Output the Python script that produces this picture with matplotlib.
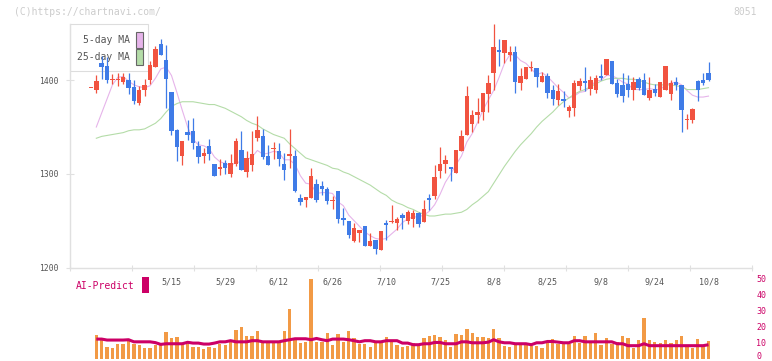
import numpy as np
import matplotlib.pyplot as plt
from matplotlib.patches import Rectangle

W, H = 772, 361

# 日足 OHLC（先頭は左端にだけ見える十字線、以降 2025/4/22 ～ 10/8）
opens = [1392,
         1390, 1418, 1415, 1400, 1400, 1398, 1400, 1393, 1376, 1390,
         1400, 1414, 1439, 1422, 1387, 1347, 1319, 1345, 1346, 1330,
         1319, 1330, 1310, 1305, 1312, 1300, 1311, 1325, 1302, 1309,
         1338, 1340, 1319, 1326, 1324, 1310, 1319, 1319, 1274, 1272,
         1274, 1289, 1287, 1284, 1271, 1282, 1253, 1250, 1228, 1237,
         1244, 1223, 1229, 1219, 1248, 1249, 1248, 1256, 1250, 1252,
         1258, 1249, 1274, 1276, 1303, 1310, 1307, 1301, 1324, 1341,
         1353, 1363, 1366, 1385, 1408, 1432, 1429, 1427, 1430, 1397,
         1401, 1413, 1413, 1398, 1405, 1390, 1379, 1380, 1367, 1370,
         1394, 1399, 1391, 1390, 1405, 1406, 1420, 1397, 1395, 1396,
         1389, 1401, 1400, 1381, 1391, 1382, 1389, 1385, 1398, 1395,
         1357, 1357, 1399, 1400, 1408]
highs = [1392,
         1406, 1426, 1425, 1407, 1408, 1408, 1408, 1400, 1394, 1401,
         1421, 1436, 1444, 1438, 1387, 1348, 1335, 1357, 1360, 1335,
         1328, 1337, 1311, 1316, 1315, 1321, 1338, 1346, 1324, 1346,
         1362, 1348, 1331, 1334, 1333, 1322, 1348, 1325, 1278, 1275,
         1306, 1294, 1292, 1286, 1276, 1282, 1264, 1250, 1247, 1240,
         1244, 1237, 1229, 1239, 1251, 1267, 1254, 1258, 1261, 1261,
         1259, 1272, 1278, 1309, 1329, 1320, 1307, 1325, 1347, 1394,
         1368, 1381, 1386, 1406, 1460, 1444, 1443, 1436, 1437, 1413,
         1414, 1420, 1413, 1409, 1408, 1395, 1396, 1388, 1373, 1400,
         1402, 1414, 1405, 1406, 1417, 1423, 1420, 1401, 1408, 1406,
         1403, 1403, 1408, 1403, 1396, 1398, 1415, 1400, 1403, 1395,
         1364, 1370, 1400, 1408, 1419]
lows = [1392,
        1386, 1401, 1397, 1396, 1394, 1396, 1385, 1375, 1374, 1383,
        1396, 1414, 1427, 1370, 1341, 1314, 1309, 1336, 1327, 1312,
        1312, 1315, 1298, 1299, 1300, 1297, 1308, 1304, 1297, 1303,
        1335, 1316, 1309, 1316, 1308, 1293, 1306, 1281, 1267, 1265,
        1274, 1270, 1277, 1268, 1262, 1248, 1245, 1231, 1227, 1227,
        1223, 1223, 1214, 1219, 1229, 1247, 1240, 1241, 1246, 1243,
        1243, 1249, 1261, 1273, 1296, 1301, 1292, 1301, 1324, 1341,
        1345, 1354, 1358, 1366, 1389, 1415, 1418, 1421, 1386, 1389,
        1401, 1410, 1393, 1398, 1381, 1374, 1373, 1371, 1361, 1362,
        1390, 1388, 1384, 1386, 1400, 1406, 1396, 1382, 1377, 1382,
        1379, 1389, 1384, 1379, 1383, 1382, 1389, 1379, 1389, 1345,
        1348, 1354, 1378, 1395, 1399]
closes = [1392,
          1399, 1414, 1400, 1401, 1401, 1403, 1392, 1378, 1390, 1395,
          1416, 1433, 1427, 1401, 1346, 1329, 1335, 1342, 1333, 1318,
          1322, 1321, 1298, 1307, 1306, 1312, 1335, 1304, 1317, 1321,
          1347, 1318, 1309, 1327, 1316, 1304, 1321, 1282, 1270, 1275,
          1298, 1272, 1284, 1271, 1272, 1252, 1251, 1235, 1242, 1240,
          1223, 1228, 1220, 1239, 1245, 1250, 1252, 1253, 1259, 1258,
          1246, 1262, 1272, 1297, 1311, 1315, 1305, 1325, 1340, 1383,
          1363, 1366, 1386, 1397, 1435, 1430, 1443, 1430, 1398, 1404,
          1414, 1414, 1403, 1405, 1386, 1380, 1388, 1378, 1371, 1397,
          1399, 1397, 1400, 1402, 1402, 1423, 1396, 1385, 1383, 1390,
          1398, 1392, 1384, 1390, 1386, 1398, 1415, 1397, 1395, 1368,
          1358, 1369, 1390, 1397, 1400]

# 移動平均（画面から読み取り、2025/4/22 以降）
ma5 = [1350, 1365, 1380, 1395, 1403, 1404, 1399, 1395, 1393, 1392,
       1394, 1402, 1412, 1414, 1405, 1387, 1368, 1350, 1337, 1331,
       1330, 1327, 1318, 1313, 1311, 1309, 1312, 1313, 1315, 1318,
       1325, 1321, 1322, 1324, 1323, 1315, 1315, 1310, 1298, 1290,
       1289, 1279, 1280, 1280, 1279, 1270, 1266, 1256, 1250, 1244,
       1238, 1234, 1231, 1230, 1231, 1236, 1241, 1248, 1252, 1254,
       1254, 1256, 1260, 1267, 1278, 1291, 1300, 1310, 1319, 1334,
       1343, 1355, 1368, 1379, 1389, 1403, 1418, 1427, 1427, 1421,
       1418, 1412, 1406, 1408, 1404, 1398, 1392, 1387, 1381, 1383,
       1387, 1388, 1393, 1399, 1400, 1405, 1405, 1402, 1398, 1396,
       1390, 1390, 1390, 1391, 1390, 1390, 1395, 1397, 1398, 1395,
       1389, 1384, 1382, 1382, 1383]
ma25 = [1338, 1340, 1341, 1342, 1343, 1344, 1346, 1347, 1347, 1348,
        1351, 1354, 1359, 1366, 1372, 1375, 1377, 1377, 1377, 1376,
        1375, 1374, 1374, 1372, 1370, 1367, 1364, 1361, 1357, 1354,
        1352, 1348, 1345, 1342, 1340, 1338, 1332, 1327, 1322, 1317,
        1315, 1313, 1311, 1309, 1306, 1305, 1302, 1300, 1297, 1294,
        1291, 1288, 1284, 1280, 1277, 1272, 1269, 1267, 1264, 1262,
        1259, 1257, 1255, 1255, 1256, 1257, 1257, 1258, 1259, 1262,
        1267, 1271, 1276, 1281, 1290, 1299, 1308, 1316, 1324, 1331,
        1337, 1343, 1350, 1356, 1361, 1366, 1372, 1377, 1381, 1385,
        1388, 1390, 1393, 1396, 1399, 1401, 1402, 1402, 1402, 1401,
        1401, 1400, 1398, 1396, 1395, 1395, 1395, 1395, 1394, 1393,
        1390, 1390, 1390, 1391, 1392]

# 下段：出来高系の棒と AI-Predict（右軸 0-50）
volume = [14.9, 11.8, 7.4, 6.8, 9.1, 9.1, 11.8, 9.1, 8.7, 6.8,
          6.8, 8.7, 8.7, 16.7, 13.0, 13.6, 9.3, 9.3, 7.4, 7.4,
          6.2, 7.4, 6.8, 9.3, 8.7, 10.5, 18.0, 19.8, 14.3, 14.3,
          17.4, 10.5, 10.5, 10.5, 10.5, 17.4, 31.0, 13.0, 9.9, 10.5,
          49.6, 10.5, 10.5, 16.1, 8.7, 15.5, 10.5, 17.4, 13.0, 9.3,
          9.3, 7.4, 9.9, 9.9, 13.6, 10.5, 8.7, 7.4, 8.1, 9.9,
          8.1, 13.0, 14.3, 14.9, 13.6, 11.8, 7.4, 15.5, 14.9, 18.6,
          16.1, 13.6, 13.6, 13.0, 18.6, 13.0, 8.1, 7.4, 9.3, 9.3,
          9.3, 8.1, 8.1, 6.8, 10.5, 12.4, 9.3, 10.5, 9.3, 14.3,
          9.9, 14.3, 10.5, 16.1, 8.7, 13.0, 9.3, 10.5, 14.3, 13.0,
          6.8, 11.8, 25.4, 11.8, 10.5, 9.9, 11.8, 9.9, 11.8, 14.3,
          8.1, 6.8, 12.4, 8.1, 11.2]
ai_predict = [12.2, 12.2, 11.6, 11.6, 11.6, 11.6, 11.8, 10.5, 10.5, 10.5,
              10.5, 10.0, 8.9, 9.3, 9.3, 9.3, 9.3, 10.2, 9.7, 9.7,
              9.1, 9.1, 9.7, 10.5, 10.5, 11.2, 10.5, 10.5, 10.5, 11.2,
              11.2, 10.5, 10.5, 10.5, 10.5, 11.2, 11.8, 12.4, 12.4, 12.4,
              11.8, 12.6, 11.8, 11.2, 12.2, 12.2, 12.2, 11.8, 11.2, 10.5,
              11.2, 11.2, 10.5, 10.5, 11.2, 11.2, 11.2, 9.7, 9.7, 8.7,
              8.7, 9.3, 9.3, 10.1, 10.1, 9.3, 9.3, 9.3, 10.5, 10.5,
              9.9, 9.9, 9.9, 10.3, 11.8, 10.5, 9.9, 9.9, 9.3, 9.3,
              9.3, 8.7, 9.9, 9.9, 10.7, 10.7, 10.3, 9.9, 9.9, 11.2,
              11.2, 10.5, 10.5, 10.5, 10.5, 10.5, 10.5, 9.3, 9.3, 8.1,
              8.1, 8.1, 9.3, 8.1, 8.1, 8.1, 8.1, 8.1, 8.1, 8.1,
              8.1, 8.1, 8.1, 8.1, 8.7]

# 日付ラベル（10営業日ごと）
date_labels = ["5/15", "5/29", "6/12", "6/26", "7/10", "7/25",
               "8/8", "8/25", "9/8", "9/24", "10/8"]
date_pos = [15, 25, 35, 45, 55, 65, 75, 85, 95, 105, 115]

RED = "#f15340"
BLUE = "#3f7be7"
PINK = "#e6b4ea"
GREEN = "#b4dca8"
ORANGE = "#f29a45"
CRIMSON = "#cc0066"
GRID = "#e0e0e0"
TXT = "#555555"
MONO = "DejaVu Sans Mono"


def px(x, y):
    # ピクセル座標 -> figure 座標
    return x / W, 1 - y / H


def main():
    o = np.array(opens, float)
    h = np.array(highs, float)
    l = np.array(lows, float)
    c = np.array(closes, float)
    x = np.arange(len(o))
    x_rest = np.arange(1, len(o))

    fig = plt.figure(figsize=(W / 100, H / 100), dpi=100)

    ax = fig.add_axes([70 / W, 1 - 267.5 / H, 682 / W, 243.5 / H])
    ax.patch.set_alpha(0)
    ax.set_xlim(-3.9, 123.1)
    ax.set_ylim(1200, 1460)
    for s in ("top", "right"):
        ax.spines[s].set_visible(False)
    for s in ("left", "bottom"):
        ax.spines[s].set_color(GRID)
        ax.spines[s].set_linewidth(1.0)

    ax.set_yticks([1200, 1300, 1400])
    ax.set_yticklabels(["1200", "1300", "1400"], family=MONO, fontsize=5.8, color=TXT)
    ax.tick_params(axis="y", direction="inout", length=6, width=0.8, color=GRID, pad=5)
    ax.set_xticks(np.linspace(-3.9, 123.1, 12))
    ax.set_xticklabels([])
    ax.tick_params(axis="x", direction="inout", length=4, width=0.8, color=GRID)

    # 移動平均
    ax.plot(x_rest, ma5, color=PINK, lw=0.8, zorder=1.5)
    ax.plot(x_rest, ma25, color=GREEN, lw=0.8, zorder=1.5)

    # ローソク足
    up = c >= o
    cols = np.where(up, RED, BLUE)
    ax.vlines(x, l, h, colors=cols, lw=0.9, zorder=2)
    body_h = np.maximum(np.abs(c - o), 1.1)
    ax.bar(x, body_h, bottom=np.minimum(o, c), width=0.82, color=cols, lw=0, zorder=3)

    # 日付
    for p, lab in zip(date_pos, date_labels):
        ax.text(p, -0.06, lab, transform=ax.get_xaxis_transform(), ha="center", va="center",
                family=MONO, fontsize=6, color=TXT, clip_on=False)

    # 凡例（左上）
    ax.add_patch(Rectangle(px(70, 71), 78 / W, 47 / H, transform=fig.transFigure,
                           facecolor="white", edgecolor="#dddddd", lw=0.8, zorder=1, clip_on=False))
    for ty, lab, col in [(40, "5-day MA", PINK), (57, "25-day MA", GREEN)]:
        ax.text(*px(130, ty), lab, transform=fig.transFigure, ha="right", va="center",
                family=MONO, fontsize=7, color=TXT, zorder=1.2, clip_on=False)
        ax.add_patch(Rectangle(px(136, ty + 7.5), 7 / W, 15 / H, transform=fig.transFigure,
                               facecolor=col, edgecolor="#666666", lw=0.8, zorder=1.2, clip_on=False))

    # 下段
    axv = fig.add_axes([70 / W, 1 - 358.7 / H, 682 / W, 80.4 / H])
    axv.patch.set_alpha(0)
    axv.set_xlim(-3.9, 123.1)
    axv.set_ylim(0, 50)
    for s in axv.spines.values():
        s.set_visible(False)
    axv.set_xticks([])
    axv.yaxis.tick_right()
    axv.set_yticks(range(0, 51, 10))
    axv.set_yticklabels([str(v) for v in range(0, 51, 10)], family=MONO, fontsize=6, color=CRIMSON)
    axv.tick_params(axis="y", length=0, pad=3)
    # 一番下の "0" は下端で切れないよう少し持ち上げる
    axv.get_yticklabels()[0].set_va("baseline")
    axv.bar(x_rest, volume, width=0.62, color=ORANGE, lw=0, zorder=2)
    axv.plot(x_rest, ai_predict, color=CRIMSON, lw=2.2, zorder=3, solid_capstyle="butt")

    fig.text(*px(76, 286), "AI-Predict", ha="left", va="center", family=MONO, fontsize=7, color=CRIMSON)
    fig.patches.append(Rectangle(px(142, 293), 7 / W, 16 / H, transform=fig.transFigure,
                                 facecolor=CRIMSON, edgecolor="none"))

    fig.text(*px(14, 12), "(C)https://chartnavi.com/", ha="left", va="center",
             family=MONO, fontsize=7, color="#cccccc")
    fig.text(*px(757, 12), "8051", ha="right", va="center", family=MONO, fontsize=7, color="#cccccc")

    fig.savefig("out.png", dpi=100)


if __name__ == "__main__":
    main()
